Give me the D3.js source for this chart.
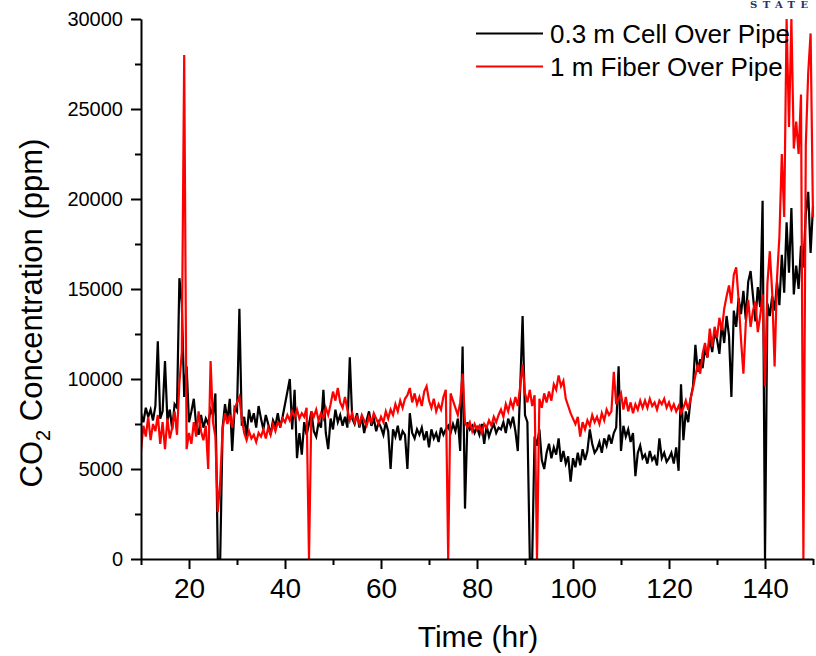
<!DOCTYPE html>
<html>
<head>
<meta charset="utf-8">
<script src="https://cdn.jsdelivr.net/npm/d3@7"></script>
<style>
  body { margin: 0; background: #fff; }
  text { font-family: Arial, "Liberation Sans", sans-serif; }
</style>
</head>
<body>
<script>
// readings every half hour, starting at 10 hr
const startHour = 10;
const stepHour = 0.5;

// 0.3 m cell over pipe (ppm)
const cellOverPipe = [
  8100, 7600, 8400, 7900, 8300, 7700, 8500, 12100, 7800, 8200,
  11000, 7700, 8300, 7200, 8600, 8400, 15600, 14200, 9000, 10700,
  7600, 8200, 8900, 7400, 6900, 8000, 7300, 7800, 7500, 8300,
  8000, 9200, 0, 0, 7300, 8600, 7700, 8900, 6000, 8400,
  8200, 13900, 7400, 7900, 6800, 8300, 7600, 8100, 7300, 8500,
  7800, 7200, 8000, 7500, 6900, 7700, 7400, 8100, 7300, 7900,
  8600, 9300, 10000, 7200, 9400, 5600, 7000, 5800, 7600, 6900,
  7500, 8200, 7100, 6800, 7600, 7300, 9400, 7000, 6100, 7800,
  7200, 8300, 7600, 8000, 7400, 7900, 7300, 11200, 7800, 7500,
  8100, 7300, 7900, 7000, 7700, 8200, 7400, 7800, 7100, 7600,
  7300, 6900, 7600, 7100, 5000, 7200, 6800, 7400, 6600, 7100,
  6900, 5000, 8100, 7000, 6700, 7200, 6900, 7300, 6600, 7100,
  6200, 7200, 6700, 7000, 6500, 7300, 6900, 7200, 7400, 7000,
  7500, 7100, 7800, 6000, 11800, 2800, 7600, 7200, 7400, 7000,
  7300, 6900, 7500, 6400, 7400, 6800, 7200, 7500, 7000, 7300,
  7200, 7600, 7000, 7800, 7400, 7900, 7100, 6000, 9500, 13500,
  8000, 7600, 0, 0, 6800, 6300, 7200, 5500, 5000, 5900,
  6400, 5600, 6200, 5800, 6700, 5400, 6000, 5300, 5700, 4300,
  5600, 5100, 5900, 5200, 6100, 5500, 6000, 7200, 6400, 5900,
  6100, 6500, 5900, 6700, 6300, 6900, 6400, 7000, 7300, 10700,
  6000, 7400, 6800, 7200, 6500, 7000, 4600, 5900, 6300, 5600,
  5800, 5300, 6000, 5500, 5700, 5200, 6700, 5600, 5900, 5400,
  5600, 5900, 5300, 6200, 4900, 9700, 6600, 8200, 7600, 8900,
  9600, 11900, 10400, 11100, 10600, 11700, 11200, 12300, 11500, 12600,
  12200, 11400, 13100, 12000, 13500, 12400, 9000, 13800, 12900, 14500,
  13600, 14900, 13300, 15400, 16000, 14600, 13200, 15100, 14000, 19900,
  0, 14200, 13500, 14600, 13800, 15400, 14100, 16900, 14800, 18700,
  15900, 19500, 14700, 16300, 15000, 17400, 16200, 19200, 20400, 17000,
  19600
];

// 1 m fiber over pipe (ppm)
const fiberOverPipe = [
  6000, 7400, 6800, 7900, 6600, 7500, 7100, 8000, 6400, 7600,
  6100, 7800, 6700, 7300, 8200, 6900, 9800, 11500, 28000, 6100,
  7000, 6400, 7600, 6800, 8200, 7100, 6600, 7400, 5000, 11000,
  7600, 6800, 2600, 4300, 7200, 8100, 7500, 8000, 7300, 8300,
  8700, 9000, 7800, 7000, 6600, 7100, 6700, 6900, 6500, 7000,
  6800, 7200, 6700, 7300, 6900, 7500, 7100, 7600, 7400, 7800,
  7600, 8000, 7700, 8200, 7900, 8300, 7800, 8100, 7900, 8400,
  0, 8200, 7900, 8300, 7700, 8100, 7800, 8400, 8000, 8600,
  9300, 8800, 9500, 8700, 8400, 9000, 8300, 7700, 8100, 7600,
  7900, 7500, 8000, 7700, 7400, 7900, 7600, 8100, 7800, 7500,
  7900, 7600, 8200, 7800, 8300, 8000, 8600, 8200, 8800, 8400,
  8900, 9100, 9500, 8700, 9200, 8600, 9000, 8500, 9300, 9600,
  8800, 8400, 8900, 8200, 8600, 8300, 9000, 9400, 0, 9200,
  8800, 8400, 8000, 8700, 10300, 7600, 7300, 7600, 7100, 7500,
  7200, 7400, 7000, 7500, 7300, 7700, 7400, 7900, 7600, 8000,
  8300, 7900, 8600, 8200, 8800, 8400, 9000, 8500, 9600, 10800,
  9200, 8700, 9400, 8500, 9100, 0, 8900, 8400, 9200, 8700,
  9300, 8800, 9700, 9400, 10200, 9600, 9900, 8900, 8500, 8100,
  7800, 7500, 7900, 6800, 7600, 7200, 7700, 7400, 8000, 7600,
  7900, 7500, 8100, 7700, 8300, 8000, 8200, 10400, 8600, 8900,
  9200, 8300, 9000, 8200, 8700, 8100, 8600, 8300, 8800, 8400,
  8800, 8400, 8900, 8500, 8700, 8300, 8800, 8600, 8900, 8400,
  8700, 8300, 8600, 8200, 8500, 8100, 8400, 8800, 8300, 8900,
  9500, 10200, 10800, 10300, 11400, 12000, 11200, 12800, 11800, 12900,
  12300, 13400, 12700, 13900, 14600, 15200, 14200, 15800, 16200, 14400,
  12200, 10300, 13100, 14400, 12900, 13800, 14300, 12600, 13500, 14700,
  9600, 15300, 17100, 14800, 10700, 15600, 17900, 22500, 19000, 30000,
  24000, 30000, 22800, 24300, 22500, 25800, 0, 23000, 27000, 29200,
  19000
];

const seriesNames = ["0.3 m Cell Over Pipe", "1 m Fiber Over Pipe"];
const seriesColors = ["#000000", "#ff0000"];

const xMajorTicks = [20, 40, 60, 80, 100, 120, 140];
const xMinorTicks = [10, 30, 50, 70, 90, 110, 130, 150];
const yMajorTicks = [0, 5000, 10000, 15000, 20000, 25000, 30000];
const yMinorTicks = [2500, 7500, 12500, 17500, 22500, 27500];

const width = 816, height = 656;
const margin = { top: 19, right: 3, bottom: 97, left: 141 };

const svg = d3.select("body").append("svg")
    .attr("width", width)
    .attr("height", height);

const x = d3.scaleLinear()
    .domain([10, 150])
    .range([margin.left, width - margin.right]);

const y = d3.scaleLinear()
    .domain([0, 30000])
    .range([height - margin.bottom, margin.top]);

// small logo remnant in the top right corner
svg.append("text")
    .attr("x", 750)
    .attr("y", 8)
    .attr("font-weight", "bold")
    .attr("font-size", 10)
    .attr("textLength", 58)
    .attr("fill", "#2b2f6b")
    .style("font-family", "'DejaVu Serif', 'Liberation Serif', serif")
    .text("STATE");

svg.append("clipPath").attr("id", "plot-clip")
  .append("rect")
    .attr("x", margin.left)
    .attr("y", margin.top - 2)
    .attr("width", width - margin.right - margin.left + 2)
    .attr("height", height - margin.bottom - margin.top + 2);

const line = d3.line()
    .x((d, i) => x(startHour + i * stepHour))
    .y(d => y(d));

[cellOverPipe, fiberOverPipe].forEach((series, i) => {
  svg.append("path")
      .datum(series)
      .attr("clip-path", "url(#plot-clip)")
      .attr("fill", "none")
      .attr("stroke", seriesColors[i])
      .attr("stroke-width", 2.2)
      .attr("stroke-linejoin", "miter")
      .attr("d", line);
});

//axes
const xAxisY = height - margin.bottom;

svg.append("g")
    .attr("transform", `translate(0,${xAxisY})`)
    .call(d3.axisBottom(x).tickValues(xMinorTicks).tickSize(6).tickSizeOuter(0).tickFormat(""))
    .call(g => g.selectAll("line").attr("stroke-width", 2));

svg.append("g")
    .attr("transform", `translate(0,${xAxisY})`)
    .call(d3.axisBottom(x).tickValues(xMajorTicks).tickSize(10).tickPadding(9).tickSizeOuter(0))
    .call(g => g.select(".domain").attr("stroke-width", 2))
    .call(g => g.selectAll("line").attr("stroke-width", 2))
    .call(g => g.selectAll("text")
        .attr("font-size", 28)
        .attr("font-family", "Arial, 'Liberation Sans', sans-serif")
        .attr("fill", "#000"));

svg.append("g")
    .attr("transform", `translate(${margin.left},0)`)
    .call(d3.axisLeft(y).tickValues(yMinorTicks).tickSize(6).tickSizeOuter(0).tickFormat(""))
    .call(g => g.selectAll("line").attr("stroke-width", 2));

svg.append("g")
    .attr("transform", `translate(${margin.left},0)`)
    .call(d3.axisLeft(y).tickValues(yMajorTicks).tickSize(10).tickPadding(8).tickSizeOuter(0).tickFormat(d3.format("d")))
    .call(g => g.select(".domain").attr("stroke-width", 2))
    .call(g => g.selectAll("line").attr("stroke-width", 2))
    .call(g => g.selectAll("text")
        .attr("font-size", 20)
        .attr("font-family", "Arial, 'Liberation Sans', sans-serif")
        .attr("fill", "#000"));

// axis titles
svg.append("text")
    .attr("x", 478)
    .attr("y", 647)
    .attr("text-anchor", "middle")
    .attr("font-size", 30)
    .text("Time (hr)");

const yTitle = svg.append("text")
    .attr("transform", "translate(42,313) rotate(-90)")
    .attr("text-anchor", "middle")
    .attr("font-size", 31);
yTitle.append("tspan").text("CO");
yTitle.append("tspan").attr("font-size", 20).attr("dy", 8).text("2");
yTitle.append("tspan").attr("dy", -8).text(" Concentration (ppm)");

// legend
const legendRowY = [33.5, 66.5];
seriesNames.forEach((name, i) => {
  svg.append("line")
      .attr("x1", 476)
      .attr("x2", 543)
      .attr("y1", legendRowY[i])
      .attr("y2", legendRowY[i])
      .attr("stroke", seriesColors[i])
      .attr("stroke-width", 2);
  svg.append("text")
      .attr("x", 550)
      .attr("y", legendRowY[i] + 9.3)
      .attr("font-size", 26)
      .text(name);
});
</script>
</body>
</html>
